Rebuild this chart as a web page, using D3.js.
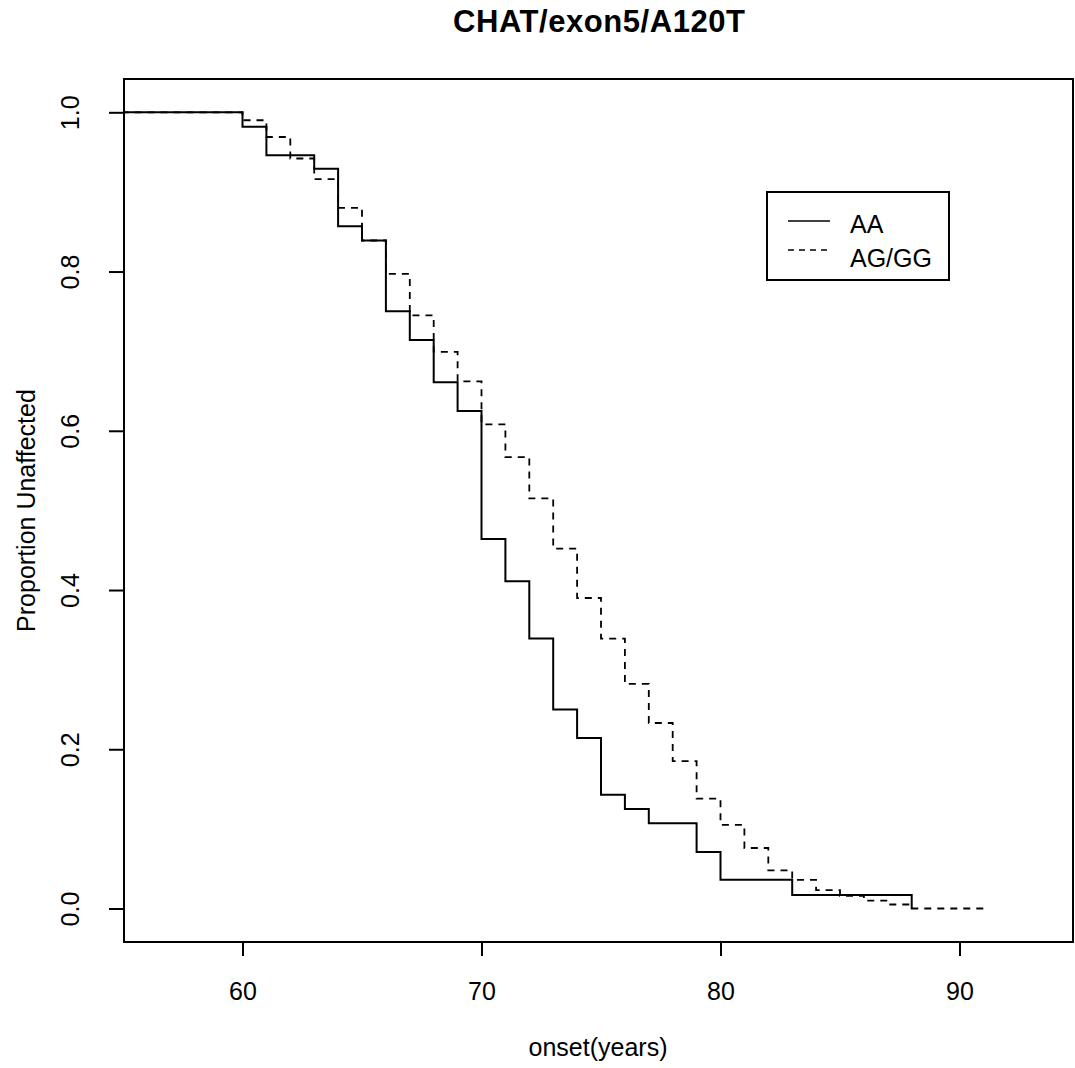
<!DOCTYPE html>
<html>
<head>
<meta charset="utf-8">
<script src="https://cdn.jsdelivr.net/npm/d3@7"></script>
<style>
  body { margin: 0; background: #fff; }
  text { font-family: "Liberation Sans", Arial, sans-serif; fill: #000; }
</style>
</head>
<body>
<div id="chart"></div>
<script>
// Kaplan-Meier estimates
var aaTimes = [0, 60, 61, 63, 64, 65, 66, 67, 68, 69, 70, 71, 72, 73, 74, 75, 76, 77, 79, 80, 83, 88];
var aaSurv  = [1, 0.982, 0.946, 0.929, 0.857, 0.839, 0.750, 0.714, 0.661, 0.625, 0.464, 0.411, 0.339, 0.250, 0.214, 0.143, 0.125, 0.107, 0.071, 0.036, 0.017, 0];

var agTimes = [0, 60, 61, 62, 63, 64, 65, 66, 67, 68, 69, 70, 71, 72, 73, 74, 75, 76, 77, 78, 79, 80, 81, 82, 83, 84, 85, 86, 87, 88, 91];
var agSurv  = [1, 0.990, 0.969, 0.942, 0.916, 0.880, 0.839, 0.797, 0.745, 0.699, 0.662, 0.608, 0.567, 0.515, 0.452, 0.390, 0.339, 0.282, 0.233, 0.185, 0.138, 0.105, 0.076, 0.048, 0.036, 0.023, 0.016, 0.010, 0.005, 0, 0];

var xTicks = [60, 70, 80, 90];
var yTicks = [0, 0.2, 0.4, 0.6, 0.8, 1.0];
var legendLabels = ["AA", "AG/GG"];

var W = 1075, H = 1068;
var box = {left: 124, right: 1073, top: 79, bottom: 942};

var svg = d3.select("#chart").append("svg")
	.attr("width", W)
	.attr("height", H);

var x = d3.scaleLinear().domain([60, 90]).range([242.5, 959.5]);
var y = d3.scaleLinear().domain([0, 1]).range([908.5, 112.3]);

svg.append("clipPath").attr("id", "plotclip")
	.append("rect")
	.attr("x", box.left).attr("y", box.top)
	.attr("width", box.right - box.left).attr("height", box.bottom - box.top);

// title
svg.append("text")
	.attr("x", 599).attr("y", 32)
	.attr("text-anchor", "middle")
	.attr("font-size", 31)
	.attr("font-weight", "bold")
	.attr("textLength", 292)
	.attr("lengthAdjust", "spacing")
	.text("CHAT/exon5/A120T");

// x axis
var xAxis = svg.append("g")
	.attr("transform", "translate(0," + box.bottom + ")")
	.call(d3.axisBottom(x).tickValues(xTicks).tickSize(14).tickPadding(26).tickFormat(d3.format("d")));
xAxis.select(".domain").remove();
xAxis.selectAll("line").attr("stroke", "#000").attr("stroke-width", 2);
xAxis.selectAll("text").attr("font-size", 25).attr("font-family", "Liberation Sans, Arial, sans-serif");

// y axis
var yAxis = svg.append("g")
	.attr("transform", "translate(" + box.left + ",0)")
	.call(d3.axisLeft(y).tickValues(yTicks).tickSize(15).tickFormat(d3.format(".1f")));
yAxis.select(".domain").remove();
yAxis.selectAll("line").attr("stroke", "#000").attr("stroke-width", 2);
yAxis.selectAll("text")
	.attr("font-size", 25)
	.attr("font-family", "Liberation Sans, Arial, sans-serif")
	.attr("x", null).attr("dy", null)
	.attr("text-anchor", "middle")
	.attr("transform", "translate(-45,0) rotate(-90)");

// axis titles
svg.append("text")
	.attr("x", 598).attr("y", 1056)
	.attr("text-anchor", "middle")
	.attr("font-size", 25)
	.text("onset(years)");

svg.append("text")
	.attr("transform", "translate(35," + ((box.top + box.bottom) / 2) + ") rotate(-90)")
	.attr("text-anchor", "middle")
	.attr("font-size", 25)
	.text("Proportion Unaffected");

// plot frame
svg.append("rect")
	.attr("x", box.left).attr("y", box.top)
	.attr("width", box.right - box.left).attr("height", box.bottom - box.top)
	.attr("fill", "none").attr("stroke", "#000").attr("stroke-width", 2);

// survival curves
var line = d3.line()
	.x(d => x(d[0]))
	.y(d => y(d[1]))
	.curve(d3.curveStepAfter);

var curves = [
	{times: aaTimes, surv: aaSurv, dash: null, width: 2},
	{times: agTimes, surv: agSurv, dash: "7,6", width: 1.8}
];

svg.append("g").attr("clip-path", "url(#plotclip)")
	.selectAll("path")
	.data(curves)
	.enter()
	.append("path")
	.attr("d", d => line(d3.zip(d.times, d.surv)))
	.attr("fill", "none")
	.attr("stroke", "#000")
	.attr("stroke-width", d => d.width)
	.attr("stroke-dasharray", d => d.dash);

// legend
var lg = svg.append("g");
lg.append("rect")
	.attr("x", 767).attr("y", 192)
	.attr("width", 182).attr("height", 88)
	.attr("fill", "#fff").attr("stroke", "#000").attr("stroke-width", 2);

var rows = lg.selectAll("g.row")
	.data(legendLabels)
	.enter()
	.append("g")
	.attr("class", "row");

rows.append("line")
	.attr("x1", 788).attr("x2", 830)
	.attr("y1", (d, i) => 221 + i * 29)
	.attr("y2", (d, i) => 221 + i * 29)
	.attr("stroke", "#000")
	.attr("stroke-width", 1.5)
	.attr("stroke-dasharray", (d, i) => curves[i].dash ? "6,5" : null);

rows.append("text")
	.attr("x", 850)
	.attr("y", (d, i) => 233 + i * 34)
	.attr("font-size", 25)
	.text(d => d);
</script>
</body>
</html>
